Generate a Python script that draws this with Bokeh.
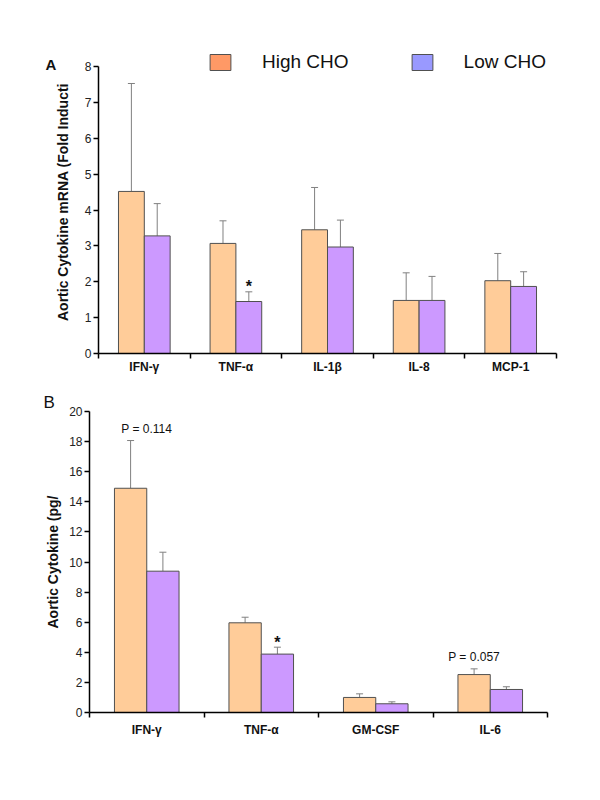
from bokeh.plotting import figure
from bokeh.models import (ColumnDataSource, Range1d, FixedTicker, Whisker, TeeHead,
                          Legend, LegendItem, Label)
from bokeh.transform import dodge
from bokeh.layouts import column
from bokeh.embed import file_html
from bokeh.resources import INLINE
from bokeh.core.properties import value

# ---------------- Panel A data (fold induction) ----------------
a_categories = ["IFN-γ", "TNF-α", "IL-1β", "IL-8", "MCP-1"]
a_high = [4.52, 3.07, 3.45, 1.48, 2.03]
a_high_upper = [7.53, 3.70, 4.63, 2.25, 2.79]
a_low = [3.28, 1.45, 2.97, 1.48, 1.87]
a_low_upper = [4.18, 1.72, 3.72, 2.15, 2.28]
a_y_ticks = [0, 1, 2, 3, 4, 5, 6, 7, 8]
a_star_low = ["TNF-α"]
a_ytitle = "Aortic Cytokine mRNA (Fold Inducti"

# ---------------- Panel B data (pg/g) ----------------
b_categories = ["IFN-γ", "TNF-α", "GM-CSF", "IL-6"]
b_high = [14.9, 5.96, 1.00, 2.52]
b_high_upper = [18.07, 6.33, 1.24, 2.90]
b_low = [9.39, 3.88, 0.58, 1.53]
b_low_upper = [10.65, 4.34, 0.71, 1.71]
b_y_ticks = [0, 2, 4, 6, 8, 10, 12, 14, 16, 18, 20]
b_star_low = ["TNF-α"]
b_p_cats = ["IFN-γ", "IL-6"]
b_p_texts = ["P = 0.114", "P = 0.057"]
b_ytitle = "Aortic Cytokine (pg/"

series_names = ["High CHO", "Low CHO"]
bar_colors = ["#FFCC99", "#CC99FF"]
legend_colors = ["#FF9966", "#9999FF"]

FONT = "Liberation Sans"
OFF = 0.141
BW = 0.282
NAN = float("nan")


def make_panel(cats, high, high_up, low, low_up, yticks, y_end, ytitle,
               width, height, borders, title_standoff, xlabel_standoff, margin=None):
    n = len(cats)
    centers = [i + 0.5 for i in range(n)]
    kw = {} if margin is None else {"margin": margin}
    p = figure(width=width, height=height, x_range=Range1d(0, n),
               y_range=Range1d(yticks[0], y_end),
               output_backend="svg", toolbar_location=None,
               min_border_top=borders[0], min_border_right=borders[1],
               min_border_bottom=borders[2], min_border_left=borders[3], **kw)
    p.outline_line_color = None
    p.xgrid.visible = False
    p.ygrid.visible = False

    src = ColumnDataSource(dict(x=centers, cat=cats, high=high, high_up=high_up,
                                low=low, low_up=low_up))
    p.vbar(x=dodge("x", -OFF, range=p.x_range), top="high", bottom=0, width=BW,
           source=src, fill_color=bar_colors[0], line_color="#505050", line_width=1)
    p.vbar(x=dodge("x", OFF, range=p.x_range), top="low", bottom=0, width=BW,
           source=src, fill_color=bar_colors[1], line_color="#505050", line_width=1)
    for off, lo, up in [(-OFF, "high", "high_up"), (OFF, "low", "low_up")]:
        w = Whisker(source=src, base=dodge("x", off, range=p.x_range), lower=lo, upper=up,
                    dimension="height", line_color="#808080", line_width=1,
                    lower_head=None,
                    upper_head=TeeHead(size=7, line_color="#808080", line_width=1))
        p.add_layout(w)

    # y axis (drawn only over the value span)
    ya = p.yaxis[0]
    ya.ticker = FixedTicker(ticks=yticks)
    ya.bounds = (yticks[0], yticks[-1])
    ya.minor_tick_line_color = None
    ya.major_tick_in = 0
    ya.major_tick_out = 5
    ya.major_label_standoff = 2
    ya.axis_line_width = 1.5
    ya.major_tick_line_width = 1.5
    ya.major_label_text_font = FONT
    ya.major_label_text_font_size = "12px"
    ya.major_label_text_color = "#222222"
    ya.axis_label = ytitle
    ya.axis_label_text_font = FONT
    ya.axis_label_text_font_style = "bold"
    ya.axis_label_text_font_size = "14px"
    ya.axis_label_text_color = "#111111"
    ya.axis_label_standoff = title_standoff

    # x axis: labels at centres, tick marks at category boundaries
    xa = p.xaxis[0]
    xa.ticker = FixedTicker(ticks=centers, minor_ticks=list(range(n + 1)))
    xa.major_label_overrides = {c: lab for c, lab in zip(centers, cats)}
    xa.major_tick_in = 0
    xa.major_tick_out = 0
    xa.minor_tick_in = 0
    xa.minor_tick_out = 5
    xa.minor_tick_line_color = "black"
    xa.minor_tick_line_width = 1.5
    xa.axis_line_width = 1.5
    xa.major_label_standoff = xlabel_standoff
    xa.major_label_text_font = FONT
    xa.major_label_text_font_style = "bold"
    xa.major_label_text_font_size = "12px"
    xa.major_label_text_color = "#111111"
    return p, centers


# ---------------- Panel A ----------------
# frame reaches above the axis top so that the legend sits inside it
pA, cA = make_panel(a_categories, a_high, a_high_upper, a_low, a_low_upper,
                    a_y_ticks, 8.45, a_ytitle, 584, 385, (50, 27, 32, 98), 11, 1)
sA = ColumnDataSource(dict(
    x=[cA[a_categories.index(c)] for c in a_star_low],
    y=[a_low_upper[a_categories.index(c)] for c in a_star_low],
    t=["*"] * len(a_star_low)))
pA.text(x=dodge("x", OFF, range=pA.x_range), y="y", text="t", source=sA,
        text_align="center", text_baseline="alphabetic", y_offset=-5,
        text_font=value(FONT), text_font_size="16px", text_font_style="bold",
        text_color="#111111")

dh = pA.vbar(x=[NAN], top=[NAN], width=0.1, fill_color=legend_colors[0],
             line_color="#505050")
dl = pA.vbar(x=[NAN], top=[NAN], width=0.1, fill_color=legend_colors[1],
             line_color="#505050")
leg = Legend(items=[LegendItem(label=series_names[0], renderers=[dh]),
                    LegendItem(label=series_names[1], renderers=[dl])],
             orientation="horizontal", location=(109, 280),
             glyph_width=26, glyph_height=20, label_height=20, label_standoff=29,
             spacing=60, padding=0, margin=0, border_line_color=None,
             background_fill_alpha=0, label_text_font=FONT,
             label_text_font_size="19px", label_text_color="#111111")
pA.add_layout(leg)
# panel letter, placed in the left side panel (outside the plot frame)
pA.add_layout(Label(x=5, y=289, x_units="screen", y_units="screen", text="A",
                    text_baseline="alphabetic", text_font=FONT,
                    text_font_style="bold", text_font_size="15px",
                    text_color="#111111"), "left")

# ---------------- Panel B ----------------
# the column aligns plot borders; shift panel B left so its axis sits further left
pB, cB = make_panel(b_categories, b_high, b_high_upper, b_low, b_low_upper,
                    b_y_ticks, 20, b_ytitle, 593, 407, (26, 28, 80, 89), 5, 5,
                    margin=(0, 0, 0, -9))
pB.title.text = "B"
pB.title.align = "left"
pB.title.offset = -46
pB.title.standoff = 0
pB.title.text_font = FONT
pB.title.text_font_style = "normal"
pB.title.text_font_size = "17px"
pB.title.text_color = "#111111"

sB = ColumnDataSource(dict(
    x=[cB[b_categories.index(c)] for c in b_star_low],
    y=[b_low_upper[b_categories.index(c)] for c in b_star_low],
    t=["*"] * len(b_star_low)))
pB.text(x=dodge("x", OFF, range=pB.x_range), y="y", text="t", source=sB,
        text_align="center", text_baseline="alphabetic", y_offset=-5,
        text_font=value(FONT), text_font_size="16px", text_font_style="bold",
        text_color="#111111")
p_off = {"IFN-γ": 0.0, "IL-6": -OFF}
sP = ColumnDataSource(dict(
    x=[cB[b_categories.index(c)] + p_off[c] for c in b_p_cats],
    y=[b_high_upper[b_categories.index(c)] for c in b_p_cats],
    t=b_p_texts))
pB.text(x="x", y="y", text="t", source=sP, text_align="center",
        text_baseline="alphabetic", y_offset=-12, text_font=value(FONT),
        text_font_size="12px", text_color="#111111")

layout = column(pA, pB)
open("out.html", "w").write(file_html(layout, INLINE))
